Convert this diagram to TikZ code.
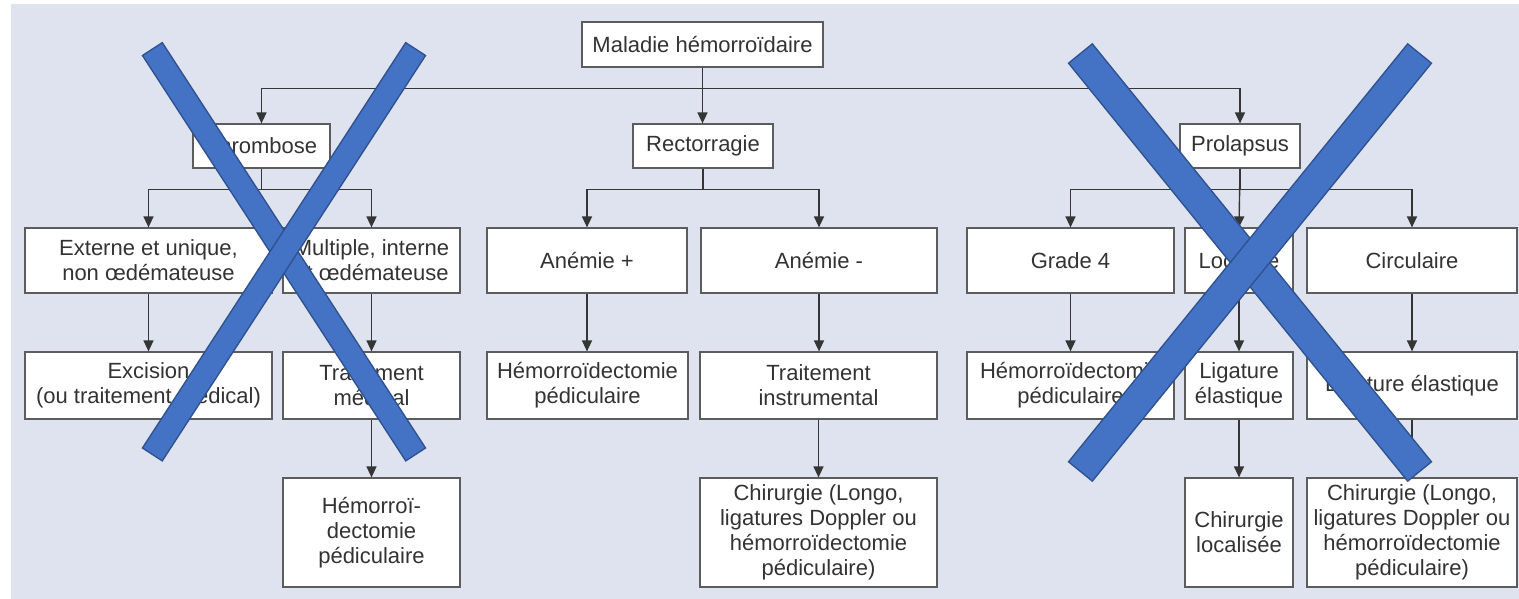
\documentclass[tikz,border=0pt]{standalone}
\usepackage{fontspec}
\setmainfont{Liberation Sans}
\usetikzlibrary{arrows.meta}
\definecolor{bgc}{HTML}{DEE3EF}
\definecolor{linec}{HTML}{353535}
\definecolor{boxc}{HTML}{5C5C5C}
\definecolor{txtc}{HTML}{333333}
\definecolor{xfill}{HTML}{4472C4}
\definecolor{xline}{HTML}{2F528F}
\begin{document}
\begin{tikzpicture}[x=1pt,y=-1pt,
  box/.style={draw=boxc, line width=1.2pt, fill=white, inner sep=0pt, align=center,
    text=txtc, font=\fontsize{22}{25}\selectfont},
  r1/.style={box, minimum height=44pt},
  r2/.style={box, minimum height=65pt},
  r3/.style={box, minimum height=67pt},
  r4/.style={box, minimum height=109pt},
  arr/.style={draw=linec, line width=1.4pt, -{Triangle[length=11pt,width=10pt]}},
  xo/.style={draw=xline, line width=#1},
  xi/.style={draw=xfill, line width=#1, shorten <=1.5pt, shorten >=1.5pt}]
\useasboundingbox (0,0) rectangle (1519,599);
\fill[white] (0,0) rectangle (1519,599);
\fill[bgc] (11,4) rectangle (1519,599);

% row 0
\node[box, minimum width=241pt, minimum height=45pt] (mal) at (702.5,44.5) {Maladie hémorroïdaire};
% row 1
\node[r1, minimum width=137pt] (thr) at (261.5,146) {Thrombose};
\node[r1, minimum width=140pt] (rec) at (703,146) {Rectorragie};
\node[r1, minimum width=120pt] (pro) at (1240,146) {Prolapsus};
% row 2
\node[r2, minimum width=247pt] (ext) at (148.5,260.5) {Externe et unique,\\non œdémateuse};
\node[r2, minimum width=177pt] (mul) at (371.5,260.5) {Multiple, interne\\et œdémateuse};
\node[r2, minimum width=200pt] (anp) at (587,260.5) {Anémie +};
\node[r2, minimum width=236pt] (anm) at (819,260.5) {Anémie -};
\node[r2, minimum width=207pt] (gr4) at (1070.5,260.5) {Grade 4};
\node[r2, minimum width=108pt] (loc) at (1239,260.5) {Localisé};
\node[r2, minimum width=210pt] (cir) at (1412,260.5) {Circulaire};
% row 3
\node[r3, minimum width=247pt] (exc) at (148.5,385.5) {Excision\\(ou traitement médical)};
\node[r3, minimum width=177pt] (tm) at (371.5,385.5) {Traitement\\médical};
\node[r3, minimum width=201pt] (hp1) at (587.5,385.5) {Hémorroïdectomie\\pédiculaire};
\node[r3, minimum width=237pt] (ti) at (818.5,385.5) {Traitement\\instrumental};
\node[r3, minimum width=207pt] (hp2) at (1070.5,385.5) {Hémorroïdectomie\\pédiculaire};
\node[r3, minimum width=108pt] (le1) at (1239,385.5) {Ligature\\élastique};
\node[r3, minimum width=210pt] (le2) at (1412,385.5) {Ligature élastique};
% row 4
\node[r4, minimum width=177pt] (hp3) at (371.5,532.5) {Hémorroï-\\dectomie\\pédiculaire};
\node[r4, minimum width=237pt] (ch1) at (818.5,532.5) {Chirurgie (Longo,\\ligatures Doppler ou\\hémorroïdectomie\\pédiculaire)};
\node[r4, minimum width=108pt] (chl) at (1239,532.5) {Chirurgie\\localisée};
\node[r4, minimum width=210pt] (ch2) at (1412,532.5) {Chirurgie (Longo,\\ligatures Doppler ou\\hémorroïdectomie\\pédiculaire)};

% connectors row 0 -> 1
\draw[arr] (mal.south) -- (mal.south |- rec.north);
\draw[arr] (mal.south) ++(0,21) -| (thr.north);
\draw[arr] (mal.south) ++(0,21) -| (pro.north);
% row 1 -> 2
\draw[arr] (thr.south) -- ++(0,21) -| (ext.north);
\draw[arr] (thr.south) -- ++(0,21) -| (mul.north);
\draw[arr] (rec.south) -- ++(0,21) -| (anp.north);
\draw[arr] (rec.south) -- ++(0,21) -| (anm.north);
\draw[arr] (pro.south) -- ++(0,21) -| (gr4.north);
\draw[arr] (pro.south) -- (loc.north);
\draw[arr] (pro.south) -- ++(0,21) -| (cir.north);
% row 2 -> 3
\draw[arr] (ext.south) -- (exc.north);
\draw[arr] (mul.south) -- (tm.north);
\draw[arr] (anp.south) -- (hp1.north -| anp.south);
\draw[arr] (anm.south) -- (ti.north -| anm.south);
\draw[arr] (gr4.south) -- (hp2.north);
\draw[arr] (loc.south) -- (le1.north);
\draw[arr] (cir.south) -- (le2.north);
% row 3 -> 4
\draw[arr] (tm.south) -- (hp3.north);
\draw[arr] (ti.south) -- (ch1.north);
\draw[arr] (le1.south) -- (chl.north);
\draw[arr] (le2.south) -- (ch2.north);

% crosses
\draw[xo=25pt] (152,48.5) -- (416,455);
\draw[xi=22pt] (152,48.5) -- (416,455);
\draw[xo=25pt] (416,48.5) -- (152,455);
\draw[xi=22pt] (416,48.5) -- (152,455);
\draw[xo=32pt] (1080,53) -- (1420,472);
\draw[xi=29pt] (1080,53) -- (1420,472);
\draw[xo=32pt] (1420,53) -- (1080,472);
\draw[xi=29pt] (1420,53) -- (1080,472);
\end{tikzpicture}
\end{document}
